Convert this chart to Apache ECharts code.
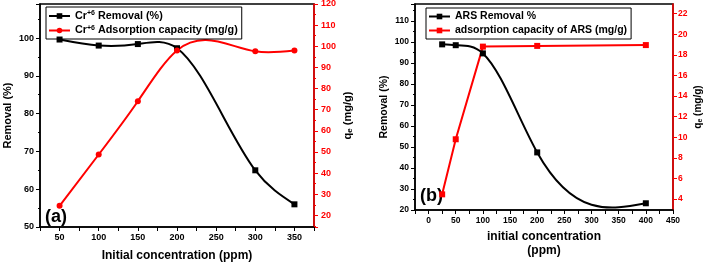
<!DOCTYPE html>
<html><head><meta charset="utf-8">
<script src="https://cdn.jsdelivr.net/npm/echarts@6/dist/echarts.min.js"></script>
<style>html,body{margin:0;padding:0;background:#fff}#c{width:704px;height:263px}</style>
</head><body><div id="c"></div>
<script>
// ---- data ----
const concA = [50, 100, 150, 200, 300, 350];
const removalA = [99.6, 98.0, 98.4, 97.3, 65.0, 56.0];
const capacityA = [24.5, 48.8, 74.0, 98.0, 97.6, 98.0];
const concB = [25, 50, 100, 200, 400];
const removalB = [98.8, 98.4, 94.5, 47.4, 23.2];
const capacityB = [4.45, 9.8, 18.8, 18.87, 18.95];
const seriesNamesA = ['Cr+6 Removal (%)', 'Cr+6 Adsorption capacity (mg/g)'];
const seriesNamesB = ['ARS Removal %', 'adsorption capacity of ARS (mg/g)'];
const xLabelStep = 50;

const FONT = 'Liberation Sans, Arial, sans-serif';
const RED = '#ff0000';
const chart = echarts.init(document.getElementById('c'));
const pairs = (xs, ys) => xs.map((x, i) => [x, ys[i]]);

// natural cubic spline (Origin-style "spline" connection), converted to Bezier segments in data space
function splineSegments(xs, ys) {
  const n = xs.length, h = [], M = new Array(n).fill(0);
  for (let i = 0; i < n - 1; i++) h.push(xs[i + 1] - xs[i]);
  if (n > 2) {
    const a = [], b = [], c = [], d = [];
    for (let i = 1; i < n - 1; i++) {
      a.push(h[i - 1]); b.push(2 * (h[i - 1] + h[i])); c.push(h[i]);
      d.push(6 * ((ys[i + 1] - ys[i]) / h[i] - (ys[i] - ys[i - 1]) / h[i - 1]));
    }
    const m = b.length;
    for (let i = 1; i < m; i++) {
      const w = a[i] / b[i - 1];
      b[i] -= w * c[i - 1]; d[i] -= w * d[i - 1];
    }
    const sol = new Array(m);
    sol[m - 1] = d[m - 1] / b[m - 1];
    for (let i = m - 2; i >= 0; i--) sol[i] = (d[i] - c[i] * sol[i + 1]) / b[i];
    for (let i = 0; i < m; i++) M[i + 1] = sol[i];
  }
  const segs = [];
  for (let i = 0; i < n - 1; i++) {
    const hh = h[i], s = (ys[i + 1] - ys[i]) / hh;
    const d0 = s - hh * (2 * M[i] + M[i + 1]) / 6;
    const d1 = s + hh * (M[i] + 2 * M[i + 1]) / 6;
    segs.push([[xs[i] + hh / 3, ys[i] + d0 * hh / 3], [xs[i + 1] - hh / 3, ys[i + 1] - d1 * hh / 3], [xs[i + 1], ys[i + 1]]]);
  }
  return segs;
}
function splineSeries(xi, yi, xs, ys, color) {
  const segs = splineSegments(xs, ys);
  return {
    type: 'custom', xAxisIndex: xi, yAxisIndex: yi, z: 1, clip: true, silent: true,
    data: pairs(xs, ys),
    renderItem: function (params, api) {
      if (params.dataIndex !== 0) return null;
      const p0 = api.coord([xs[0], ys[0]]);
      let d = 'M' + p0[0] + ' ' + p0[1];
      segs.forEach(sg => {
        const c1 = api.coord(sg[0]), c2 = api.coord(sg[1]), e = api.coord(sg[2]);
        d += ' C' + c1[0] + ' ' + c1[1] + ' ' + c2[0] + ' ' + c2[1] + ' ' + e[0] + ' ' + e[1];
      });
      return {type: 'path', shape: {pathData: d}, style: {stroke: color, lineWidth: 2, fill: null}};
    }
  };
}

function axisBase(color, fs, margin, nameFs) {
  return {
    type: 'value',
    splitLine: {show: false},
    axisLine: {show: true, onZero: false, lineStyle: {color: color, width: 1.5}},
    axisTick: {show: true, length: 4, lineStyle: {color: color, width: 1}},
    minorTick: {show: true, splitNumber: 2, length: 2, lineStyle: {color: color}},
    axisLabel: {color: color, fontFamily: FONT, fontWeight: 'bold', fontSize: fs, margin: margin},
    nameTextStyle: {color: '#000', fontFamily: FONT, fontWeight: 'bold', fontSize: nameFs}
  };
}
function xAxis(grid, min, max, name, gap, fs, nameFs) {
  const a = axisBase('#000', fs, 6, nameFs);
  Object.assign(a, {gridIndex: grid, min: min, max: max, interval: 25, name: name,
    nameLocation: 'middle', nameGap: gap});
  a.minorTick = {show: false};
  a.axisLabel.formatter = v => (v % xLabelStep === 0 ? String(v) : '');
  a.nameTextStyle.lineHeight = 14;
  return a;
}
function qeRich(fs) {
  return {
    a: {fontFamily: FONT, fontWeight: 'bold', fontSize: fs, color: '#000'},
    b: {fontFamily: FONT, fontWeight: 'bold', fontSize: fs - 3, color: '#000', verticalAlign: 'bottom', padding: [5, 0, 0, 0]}
  };
}
const qeName = '{a|q}{b|e}{a| (mg/g)}';

const yA0 = Object.assign(axisBase('#000', 9, 6, 11), {gridIndex: 0, position: 'left', min: 50, max: 109, interval: 10,
  name: 'Removal (%)', nameLocation: 'middle', nameGap: 27, nameRotate: 90});
yA0.axisLabel.showMaxLabel = false;
const yA1 = Object.assign(axisBase(RED, 9, 7, 11), {gridIndex: 0, position: 'right', min: 14.5, max: 120, splitNumber: 10,
  name: qeName, nameLocation: 'middle', nameGap: 27, nameRotate: 90});
yA1.axisLabel.showMinLabel = false;
yA1.nameTextStyle.rich = qeRich(11);
const yB0 = Object.assign(axisBase('#000', 8.5, 6, 10.5), {gridIndex: 1, position: 'left', min: 20, max: 118, interval: 10,
  name: 'Removal (%)', nameLocation: 'middle', nameGap: 25, nameRotate: 90});
yB0.axisLabel.showMaxLabel = false;
const yB1 = Object.assign(axisBase(RED, 8.5, 5, 10), {gridIndex: 1, position: 'right', min: 2.93, max: 22.94, splitNumber: 10,
  name: qeName, nameLocation: 'middle', nameGap: 19, nameRotate: 90});
yB1.axisLabel.showMinLabel = false;
yB1.axisLabel.showMaxLabel = false;
yB1.minorTick.show = false;
yB1.nameTextStyle.rich = qeRich(10);

function legend(left, top, names, fs, fmt) {
  const t = {fontFamily: FONT, fontWeight: 'bold', fontSize: fs, color: '#000'};
  return {
    data: names, left: left, top: top, orient: 'vertical',
    borderColor: '#000', borderWidth: 1, borderRadius: 0, padding: [3, 4, 3, 2],
    itemGap: 3, itemWidth: 21, itemHeight: 7,
    lineStyle: {opacity: 1, width: 2},
    textStyle: Object.assign({}, t, {rich: {
      n: t,
      s: {fontFamily: FONT, fontWeight: 'bold', fontSize: 7, color: '#000', verticalAlign: 'top', padding: [0, 0, 5, 0]}
    }}),
    formatter: fmt
  };
}
const fmtA = name => name.startsWith('Cr+6') ? '{n|Cr}{s|+6}{n|' + name.slice(4) + '}' : name;

function line(name, xi, yi, xs, ys, color, symbol, showLine) {
  return {name: name, type: 'line', xAxisIndex: xi, yAxisIndex: yi, data: pairs(xs, ys), z: 3,
    symbol: symbol, symbolSize: 6, showSymbol: true,
    itemStyle: {color: color}, lineStyle: {color: color, width: 2, opacity: showLine ? 1 : 0}};
}

chart.setOption({
  animation: false,
  backgroundColor: '#fff',
  grid: [
    {left: 40, top: 4, width: 274, height: 223, show: true, borderColor: '#000', borderWidth: 1.5, outerBoundsMode: 'none', containLabel: false},
    {left: 415, top: 4, width: 258, height: 206, show: true, borderColor: '#000', borderWidth: 1.5, outerBoundsMode: 'none', containLabel: false}
  ],
  xAxis: [
    xAxis(0, 25, 375, 'Initial concentration (ppm)', 22, 9, 12),
    xAxis(1, -25, 450, 'initial concentration\n(ppm)', 18, 8.5, 12)
  ],
  yAxis: [yA0, yA1, yB0, yB1],
  legend: [legend(46, 7, seriesNamesA, 10.8, fmtA), legend(426, 8, seriesNamesB, 10.5)],
  graphic: [
    {type: 'text', left: 45, top: 208, style: {text: '(a)', fontFamily: FONT, fontWeight: 'bold', fontSize: 18, fill: '#000'}},
    {type: 'text', left: 420, top: 187, style: {text: '(b)', fontFamily: FONT, fontWeight: 'bold', fontSize: 18, fill: '#000'}}
  ],
  series: [
    splineSeries(0, 0, concA, removalA, '#000'),
    splineSeries(0, 1, concA, capacityA, RED),
    splineSeries(1, 2, concB, removalB, '#000'),
    line(seriesNamesA[0], 0, 0, concA, removalA, '#000', 'rect', false),
    line(seriesNamesA[1], 0, 1, concA, capacityA, RED, 'circle', false),
    line(seriesNamesB[0], 1, 2, concB, removalB, '#000', 'rect', false),
    line(seriesNamesB[1], 1, 3, concB, capacityB, RED, 'rect', true)
  ]
});
</script></body></html>
